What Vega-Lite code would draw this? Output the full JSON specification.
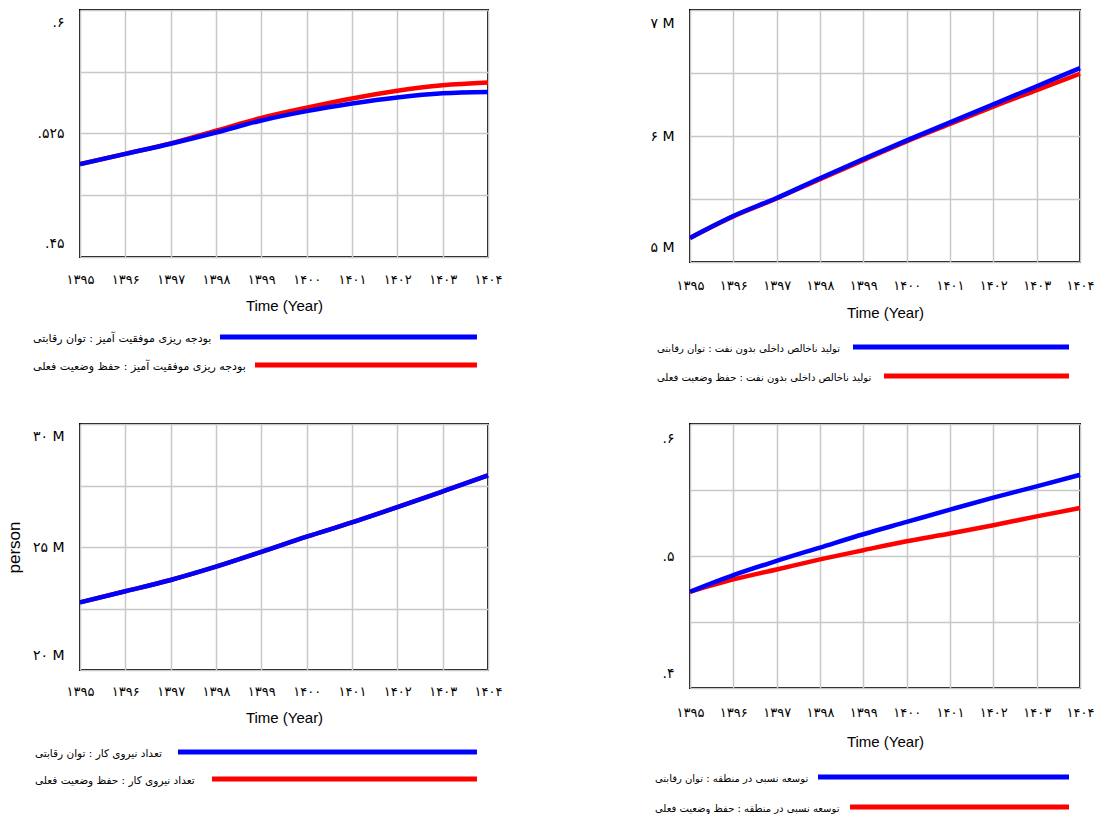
{
  "$schema": "https://vega.github.io/schema/vega-lite/v6.json",
  "padding": {"left": 4, "top": 9, "right": 0, "bottom": 0},
  "columns": 2,
  "bounds": "flush",
  "spacing": {"row": 0, "column": 202},
  "datasets": {
    "tl": [
      {"year": 1395, "scenario": "توان رقابتی", "value": 0.5064},
      {"year": 1396, "scenario": "توان رقابتی", "value": 0.5126},
      {"year": 1397, "scenario": "توان رقابتی", "value": 0.5188},
      {"year": 1398, "scenario": "توان رقابتی", "value": 0.5256},
      {"year": 1399, "scenario": "توان رقابتی", "value": 0.5329},
      {"year": 1400, "scenario": "توان رقابتی", "value": 0.5386},
      {"year": 1401, "scenario": "توان رقابتی", "value": 0.5432},
      {"year": 1402, "scenario": "توان رقابتی", "value": 0.5469},
      {"year": 1403, "scenario": "توان رقابتی", "value": 0.5494},
      {"year": 1404, "scenario": "توان رقابتی", "value": 0.5502},
      {"year": 1395, "scenario": "حفظ وضعیت فعلی", "value": 0.5064},
      {"year": 1396, "scenario": "حفظ وضعیت فعلی", "value": 0.5126},
      {"year": 1397, "scenario": "حفظ وضعیت فعلی", "value": 0.5190},
      {"year": 1398, "scenario": "حفظ وضعیت فعلی", "value": 0.5267},
      {"year": 1399, "scenario": "حفظ وضعیت فعلی", "value": 0.5345},
      {"year": 1400, "scenario": "حفظ وضعیت فعلی", "value": 0.5407},
      {"year": 1401, "scenario": "حفظ وضعیت فعلی", "value": 0.5463},
      {"year": 1402, "scenario": "حفظ وضعیت فعلی", "value": 0.5510},
      {"year": 1403, "scenario": "حفظ وضعیت فعلی", "value": 0.5543},
      {"year": 1404, "scenario": "حفظ وضعیت فعلی", "value": 0.5560}
    ],
    "tr": [
      {"year": 1395, "scenario": "توان رقابتی", "value": 5191000},
      {"year": 1396, "scenario": "توان رقابتی", "value": 5365000},
      {"year": 1397, "scenario": "توان رقابتی", "value": 5508000},
      {"year": 1398, "scenario": "توان رقابتی", "value": 5665000},
      {"year": 1399, "scenario": "توان رقابتی", "value": 5817000},
      {"year": 1400, "scenario": "توان رقابتی", "value": 5965000},
      {"year": 1401, "scenario": "توان رقابتی", "value": 6108000},
      {"year": 1402, "scenario": "توان رقابتی", "value": 6251000},
      {"year": 1403, "scenario": "توان رقابتی", "value": 6395000},
      {"year": 1404, "scenario": "توان رقابتی", "value": 6539000},
      {"year": 1395, "scenario": "حفظ وضعیت فعلی", "value": 5191000},
      {"year": 1396, "scenario": "حفظ وضعیت فعلی", "value": 5362000},
      {"year": 1397, "scenario": "حفظ وضعیت فعلی", "value": 5505000},
      {"year": 1398, "scenario": "حفظ وضعیت فعلی", "value": 5658000},
      {"year": 1399, "scenario": "حفظ وضعیت فعلی", "value": 5808000},
      {"year": 1400, "scenario": "حفظ وضعیت فعلی", "value": 5957000},
      {"year": 1401, "scenario": "حفظ وضعیت فعلی", "value": 6095000},
      {"year": 1402, "scenario": "حفظ وضعیت فعلی", "value": 6233000},
      {"year": 1403, "scenario": "حفظ وضعیت فعلی", "value": 6364000},
      {"year": 1404, "scenario": "حفظ وضعیت فعلی", "value": 6494000}
    ],
    "bl": [
      {"year": 1395, "scenario": "توان رقابتی", "value": 22750000},
      {"year": 1396, "scenario": "توان رقابتی", "value": 23200000},
      {"year": 1397, "scenario": "توان رقابتی", "value": 23660000},
      {"year": 1398, "scenario": "توان رقابتی", "value": 24200000},
      {"year": 1399, "scenario": "توان رقابتی", "value": 24800000},
      {"year": 1400, "scenario": "توان رقابتی", "value": 25420000},
      {"year": 1401, "scenario": "توان رقابتی", "value": 26000000},
      {"year": 1402, "scenario": "توان رقابتی", "value": 26620000},
      {"year": 1403, "scenario": "توان رقابتی", "value": 27260000},
      {"year": 1404, "scenario": "توان رقابتی", "value": 27910000},
      {"year": 1395, "scenario": "حفظ وضعیت فعلی", "value": 22750000},
      {"year": 1396, "scenario": "حفظ وضعیت فعلی", "value": 23200000},
      {"year": 1397, "scenario": "حفظ وضعیت فعلی", "value": 23660000},
      {"year": 1398, "scenario": "حفظ وضعیت فعلی", "value": 24200000},
      {"year": 1399, "scenario": "حفظ وضعیت فعلی", "value": 24800000},
      {"year": 1400, "scenario": "حفظ وضعیت فعلی", "value": 25420000},
      {"year": 1401, "scenario": "حفظ وضعیت فعلی", "value": 26000000},
      {"year": 1402, "scenario": "حفظ وضعیت فعلی", "value": 26620000},
      {"year": 1403, "scenario": "حفظ وضعیت فعلی", "value": 27260000},
      {"year": 1404, "scenario": "حفظ وضعیت فعلی", "value": 27910000}
    ],
    "br": [
      {"year": 1395, "scenario": "توان رقابتی", "value": 0.4729},
      {"year": 1396, "scenario": "توان رقابتی", "value": 0.4855},
      {"year": 1397, "scenario": "توان رقابتی", "value": 0.4963},
      {"year": 1398, "scenario": "توان رقابتی", "value": 0.5064},
      {"year": 1399, "scenario": "توان رقابتی", "value": 0.5165},
      {"year": 1400, "scenario": "توان رقابتی", "value": 0.5258},
      {"year": 1401, "scenario": "توان رقابتی", "value": 0.5351},
      {"year": 1402, "scenario": "توان رقابتی", "value": 0.5442},
      {"year": 1403, "scenario": "توان رقابتی", "value": 0.5527},
      {"year": 1404, "scenario": "توان رقابتی", "value": 0.5615},
      {"year": 1395, "scenario": "حفظ وضعیت فعلی", "value": 0.4729},
      {"year": 1396, "scenario": "حفظ وضعیت فعلی", "value": 0.4823},
      {"year": 1397, "scenario": "حفظ وضعیت فعلی", "value": 0.4898},
      {"year": 1398, "scenario": "حفظ وضعیت فعلی", "value": 0.4974},
      {"year": 1399, "scenario": "حفظ وضعیت فعلی", "value": 0.5044},
      {"year": 1400, "scenario": "حفظ وضعیت فعلی", "value": 0.5112},
      {"year": 1401, "scenario": "حفظ وضعیت فعلی", "value": 0.5170},
      {"year": 1402, "scenario": "حفظ وضعیت فعلی", "value": 0.5233},
      {"year": 1403, "scenario": "حفظ وضعیت فعلی", "value": 0.5300},
      {"year": 1404, "scenario": "حفظ وضعیت فعلی", "value": 0.5363}
    ],
    "leg_tl": [
      {"scenario": "توان رقابتی", "label": "بودجه ریزی موفقیت آمیز : توان رقابتی"},
      {"scenario": "حفظ وضعیت فعلی", "label": "بودجه ریزی موفقیت آمیز : حفظ وضعیت فعلی"}
    ],
    "leg_tr": [
      {"scenario": "توان رقابتی", "label": "تولید ناخالص داخلی بدون نفت : توان رقابتی"},
      {"scenario": "حفظ وضعیت فعلی", "label": "تولید ناخالص داخلی بدون نفت : حفظ وضعیت فعلی"}
    ],
    "leg_bl": [
      {"scenario": "توان رقابتی", "label": "تعداد نیروی کار : توان رقابتی"},
      {"scenario": "حفظ وضعیت فعلی", "label": "تعداد نیروی کار : حفظ وضعیت فعلی"}
    ],
    "leg_br": [
      {"scenario": "توان رقابتی", "label": "توسعه نسبی در منطقه : توان رقابتی"},
      {"scenario": "حفظ وضعیت فعلی", "label": "توسعه نسبی در منطقه : حفظ وضعیت فعلی"}
    ]
  },
  "concat": [
    {
      "width": 408, "height": 247,
      "data": {"name": "tl"},
      "encoding": {
        "x": {"field": "year", "type": "quantitative", "scale": {"domain": [1395, 1404], "nice": false, "zero": false},
              "axis": {"title": "Time (Year)", "labelPadding": 16, "titlePadding": 12, "values": [1395,1396,1397,1398,1399,1400,1401,1402,1403,1404],
                       "labelExpr": "['۱۳۹۵','۱۳۹۶','۱۳۹۷','۱۳۹۸','۱۳۹۹','۱۴۰۰','۱۴۰۱','۱۴۰۲','۱۴۰۳','۱۴۰۴'][datum.value - 1395]"}},
        "y": {"field": "value", "type": "quantitative", "scale": {"domain": [0.45, 0.6], "nice": false, "zero": false},
              "axis": {"title": null, "values": [0.45, 0.4875, 0.525, 0.5625, 0.6],
                       "labelExpr": "abs(datum.value-0.6)<1e-9 ? '.۶' : abs(datum.value-0.525)<1e-9 ? '.۵۲۵' : abs(datum.value-0.45)<1e-9 ? '.۴۵' : ''",
                       "labelOffset": {"condition": [{"test": "datum.value > 0.59", "value": 12}, {"test": "datum.value < 0.46", "value": -14}], "value": 0}}},
        "color": {"field": "scenario", "type": "nominal", "scale": {"domain": ["توان رقابتی", "حفظ وضعیت فعلی"], "range": ["#0000ff", "#ff0000"]}, "legend": null}
      },
      "layer": [
        {"transform": [{"filter": "datum.scenario == 'حفظ وضعیت فعلی'"}], "mark": {"type": "line", "strokeWidth": 4.5, "interpolate": "monotone"}},
        {"transform": [{"filter": "datum.scenario == 'توان رقابتی'"}], "mark": {"type": "line", "strokeWidth": 4.5, "interpolate": "monotone"}}
      ]
    },
    {
      "width": 390, "height": 252,
      "data": {"name": "tr"},
      "encoding": {
        "x": {"field": "year", "type": "quantitative", "scale": {"domain": [1395, 1404], "nice": false, "zero": false},
              "axis": {"title": "Time (Year)", "labelPadding": 17, "titlePadding": 13, "values": [1395,1396,1397,1398,1399,1400,1401,1402,1403,1404],
                       "labelExpr": "['۱۳۹۵','۱۳۹۶','۱۳۹۷','۱۳۹۸','۱۳۹۹','۱۴۰۰','۱۴۰۱','۱۴۰۲','۱۴۰۳','۱۴۰۴'][datum.value - 1395]"}},
        "y": {"field": "value", "type": "quantitative", "scale": {"domain": [5000000, 7000000], "nice": false, "zero": false},
              "axis": {"title": null, "values": [5000000, 5500000, 6000000, 6500000, 7000000],
                       "labelExpr": "datum.value == 7000000 ? '۷ M' : datum.value == 6000000 ? '۶ M' : datum.value == 5000000 ? '۵ M' : ''",
                       "labelOffset": {"condition": [{"test": "datum.value > 6900000", "value": 13}, {"test": "datum.value < 5100000", "value": -15}], "value": 0}}},
        "color": {"field": "scenario", "type": "nominal", "scale": {"domain": ["توان رقابتی", "حفظ وضعیت فعلی"], "range": ["#0000ff", "#ff0000"]}, "legend": null}
      },
      "layer": [
        {"transform": [{"filter": "datum.scenario == 'حفظ وضعیت فعلی'"}], "mark": {"type": "line", "strokeWidth": 4.5, "interpolate": "monotone"}},
        {"transform": [{"filter": "datum.scenario == 'توان رقابتی'"}], "mark": {"type": "line", "strokeWidth": 4.5, "interpolate": "monotone"}}
      ]
    },
    {
      "width": 408, "height": 162, "view": {"stroke": null},
      "data": {"name": "leg_tl"},
      "encoding": {"y": {"field": "scenario", "type": "nominal", "scale": {"type": "point", "padding": 0, "domain": ["توان رقابتی", "حفظ وضعیت فعلی"], "range": [75, 103]}, "axis": null}},
      "layer": [
        {"mark": {"type": "text", "align": "left", "baseline": "middle", "font": "DejaVu Sans", "fontSize": 11, "dy": 2, "color": "#000000"},
         "encoding": {"x": {"datum": -0.1152, "type": "quantitative", "scale": {"domain": [0, 1], "nice": false, "zero": false}, "axis": null}, "text": {"field": "label"}}},
        {"transform": [{"filter": "datum.scenario == 'توان رقابتی'"}], "mark": {"type": "rule", "color": "#0000ff", "strokeWidth": 5},
         "encoding": {"x": {"datum": 0.3431, "type": "quantitative", "scale": {"domain": [0, 1], "nice": false, "zero": false}, "axis": null}, "x2": {"datum": 0.973}}},
        {"transform": [{"filter": "datum.scenario == 'حفظ وضعیت فعلی'"}], "mark": {"type": "rule", "color": "#ff0000", "strokeWidth": 5},
         "encoding": {"x": {"datum": 0.4289, "type": "quantitative", "scale": {"domain": [0, 1], "nice": false, "zero": false}, "axis": null}, "x2": {"datum": 0.973}}}
      ]
    },
    {
      "width": 390, "height": 162, "view": {"stroke": null},
      "data": {"name": "leg_tr"},
      "encoding": {"y": {"field": "scenario", "type": "nominal", "scale": {"type": "point", "padding": 0, "domain": ["توان رقابتی", "حفظ وضعیت فعلی"], "range": [85, 114]}, "axis": null}},
      "layer": [
        {"mark": {"type": "text", "align": "left", "baseline": "middle", "font": "DejaVu Sans", "fontSize": 10, "dy": 2, "color": "#000000"},
         "encoding": {"x": {"datum": -0.0846, "type": "quantitative", "scale": {"domain": [0, 1], "nice": false, "zero": false}, "axis": null}, "text": {"field": "label"}}},
        {"transform": [{"filter": "datum.scenario == 'توان رقابتی'"}], "mark": {"type": "rule", "color": "#0000ff", "strokeWidth": 5},
         "encoding": {"x": {"datum": 0.4179, "type": "quantitative", "scale": {"domain": [0, 1], "nice": false, "zero": false}, "axis": null}, "x2": {"datum": 0.9718}}},
        {"transform": [{"filter": "datum.scenario == 'حفظ وضعیت فعلی'"}], "mark": {"type": "rule", "color": "#ff0000", "strokeWidth": 5},
         "encoding": {"x": {"datum": 0.4974, "type": "quantitative", "scale": {"domain": [0, 1], "nice": false, "zero": false}, "axis": null}, "x2": {"datum": 0.9718}}}
      ]
    },
    {
      "width": 408, "height": 246,
      "data": {"name": "bl"},
      "encoding": {
        "x": {"field": "year", "type": "quantitative", "scale": {"domain": [1395, 1404], "nice": false, "zero": false},
              "axis": {"title": "Time (Year)", "labelPadding": 15, "titlePadding": 12, "values": [1395,1396,1397,1398,1399,1400,1401,1402,1403,1404],
                       "labelExpr": "['۱۳۹۵','۱۳۹۶','۱۳۹۷','۱۳۹۸','۱۳۹۹','۱۴۰۰','۱۴۰۱','۱۴۰۲','۱۴۰۳','۱۴۰۴'][datum.value - 1395]"}},
        "y": {"field": "value", "type": "quantitative", "scale": {"domain": [20000000, 30000000], "nice": false, "zero": false},
              "axis": {"title": "person", "titleFontSize": 17, "titleX": -57, "titleY": 123, "values": [20000000, 22500000, 25000000, 27500000, 30000000],
                       "labelExpr": "datum.value == 30000000 ? '۳۰ M' : datum.value == 25000000 ? '۲۵ M' : datum.value == 20000000 ? '۲۰ M' : ''",
                       "labelOffset": {"condition": [{"test": "datum.value > 29900000", "value": 12}, {"test": "datum.value < 20100000", "value": -15}], "value": 0}}},
        "color": {"field": "scenario", "type": "nominal", "scale": {"domain": ["توان رقابتی", "حفظ وضعیت فعلی"], "range": ["#0000ff", "#ff0000"]}, "legend": null}
      },
      "layer": [
        {"transform": [{"filter": "datum.scenario == 'حفظ وضعیت فعلی'"}], "mark": {"type": "line", "strokeWidth": 4.5, "interpolate": "monotone"}},
        {"transform": [{"filter": "datum.scenario == 'توان رقابتی'"}], "mark": {"type": "line", "strokeWidth": 4.5, "interpolate": "monotone"}}
      ]
    },
    {
      "width": 390, "height": 264,
      "data": {"name": "br"},
      "encoding": {
        "x": {"field": "year", "type": "quantitative", "scale": {"domain": [1395, 1404], "nice": false, "zero": false},
              "axis": {"title": "Time (Year)", "labelPadding": 18, "titlePadding": 15, "values": [1395,1396,1397,1398,1399,1400,1401,1402,1403,1404],
                       "labelExpr": "['۱۳۹۵','۱۳۹۶','۱۳۹۷','۱۳۹۸','۱۳۹۹','۱۴۰۰','۱۴۰۱','۱۴۰۲','۱۴۰۳','۱۴۰۴'][datum.value - 1395]"}},
        "y": {"field": "value", "type": "quantitative", "scale": {"domain": [0.4, 0.6], "nice": false, "zero": false},
              "axis": {"title": null, "values": [0.4, 0.45, 0.5, 0.55, 0.6],
                       "labelExpr": "abs(datum.value-0.6)<1e-9 ? '.۶' : abs(datum.value-0.5)<1e-9 ? '.۵' : abs(datum.value-0.4)<1e-9 ? '.۴' : ''",
                       "labelOffset": {"condition": [{"test": "datum.value > 0.59", "value": 14}, {"test": "datum.value < 0.41", "value": -15}], "value": 0}}},
        "color": {"field": "scenario", "type": "nominal", "scale": {"domain": ["توان رقابتی", "حفظ وضعیت فعلی"], "range": ["#0000ff", "#ff0000"]}, "legend": null}
      },
      "layer": [
        {"transform": [{"filter": "datum.scenario == 'حفظ وضعیت فعلی'"}], "mark": {"type": "line", "strokeWidth": 4.5, "interpolate": "monotone"}},
        {"transform": [{"filter": "datum.scenario == 'توان رقابتی'"}], "mark": {"type": "line", "strokeWidth": 4.5, "interpolate": "monotone"}}
      ]
    },
    {
      "width": 408, "height": 125, "view": {"stroke": null},
      "data": {"name": "leg_bl"},
      "encoding": {"y": {"field": "scenario", "type": "nominal", "scale": {"type": "point", "padding": 0, "domain": ["توان رقابتی", "حفظ وضعیت فعلی"], "range": [64, 91]}, "axis": null}},
      "layer": [
        {"mark": {"type": "text", "align": "left", "baseline": "middle", "font": "DejaVu Sans", "fontSize": 10.5, "dy": 2, "color": "#000000"},
         "encoding": {"x": {"datum": -0.1103, "type": "quantitative", "scale": {"domain": [0, 1], "nice": false, "zero": false}, "axis": null}, "text": {"field": "label"}}},
        {"transform": [{"filter": "datum.scenario == 'توان رقابتی'"}], "mark": {"type": "rule", "color": "#0000ff", "strokeWidth": 5},
         "encoding": {"x": {"datum": 0.2402, "type": "quantitative", "scale": {"domain": [0, 1], "nice": false, "zero": false}, "axis": null}, "x2": {"datum": 0.973}}},
        {"transform": [{"filter": "datum.scenario == 'حفظ وضعیت فعلی'"}], "mark": {"type": "rule", "color": "#ff0000", "strokeWidth": 5},
         "encoding": {"x": {"datum": 0.3235, "type": "quantitative", "scale": {"domain": [0, 1], "nice": false, "zero": false}, "axis": null}, "x2": {"datum": 0.973}}}
      ]
    },
    {
      "width": 390, "height": 125, "view": {"stroke": null},
      "data": {"name": "leg_br"},
      "encoding": {"y": {"field": "scenario", "type": "nominal", "scale": {"type": "point", "padding": 0, "domain": ["توان رقابتی", "حفظ وضعیت فعلی"], "range": [89, 119]}, "axis": null}},
      "layer": [
        {"mark": {"type": "text", "align": "left", "baseline": "middle", "font": "DejaVu Sans", "fontSize": 10, "dy": 2, "color": "#000000"},
         "encoding": {"x": {"datum": -0.0897, "type": "quantitative", "scale": {"domain": [0, 1], "nice": false, "zero": false}, "axis": null}, "text": {"field": "label"}}},
        {"transform": [{"filter": "datum.scenario == 'توان رقابتی'"}], "mark": {"type": "rule", "color": "#0000ff", "strokeWidth": 5},
         "encoding": {"x": {"datum": 0.3282, "type": "quantitative", "scale": {"domain": [0, 1], "nice": false, "zero": false}, "axis": null}, "x2": {"datum": 0.9718}}},
        {"transform": [{"filter": "datum.scenario == 'حفظ وضعیت فعلی'"}], "mark": {"type": "rule", "color": "#ff0000", "strokeWidth": 5},
         "encoding": {"x": {"datum": 0.4103, "type": "quantitative", "scale": {"domain": [0, 1], "nice": false, "zero": false}, "axis": null}, "x2": {"datum": 0.9718}}}
      ]
    }
  ],
  "config": {
    "view": {"stroke": "#000000", "strokeWidth": 2},
    "axis": {
      "grid": true, "gridColor": "#c8c8c8", "gridWidth": 1.5, "ticks": false, "domain": false,
      "labelColor": "#000000", "titleColor": "#000000", "labelFont": "DejaVu Sans", "labelFontSize": 13,
      "labelFlush": false, "labelOverlap": false, "titleFont": "Liberation Sans", "titleFontWeight": "normal", "titleFontSize": 15
    },
    "axisX": {"labelFontSize": 13},
    "axisY": {"labelPadding": 16, "labelFontSize": 14}
  }
}
